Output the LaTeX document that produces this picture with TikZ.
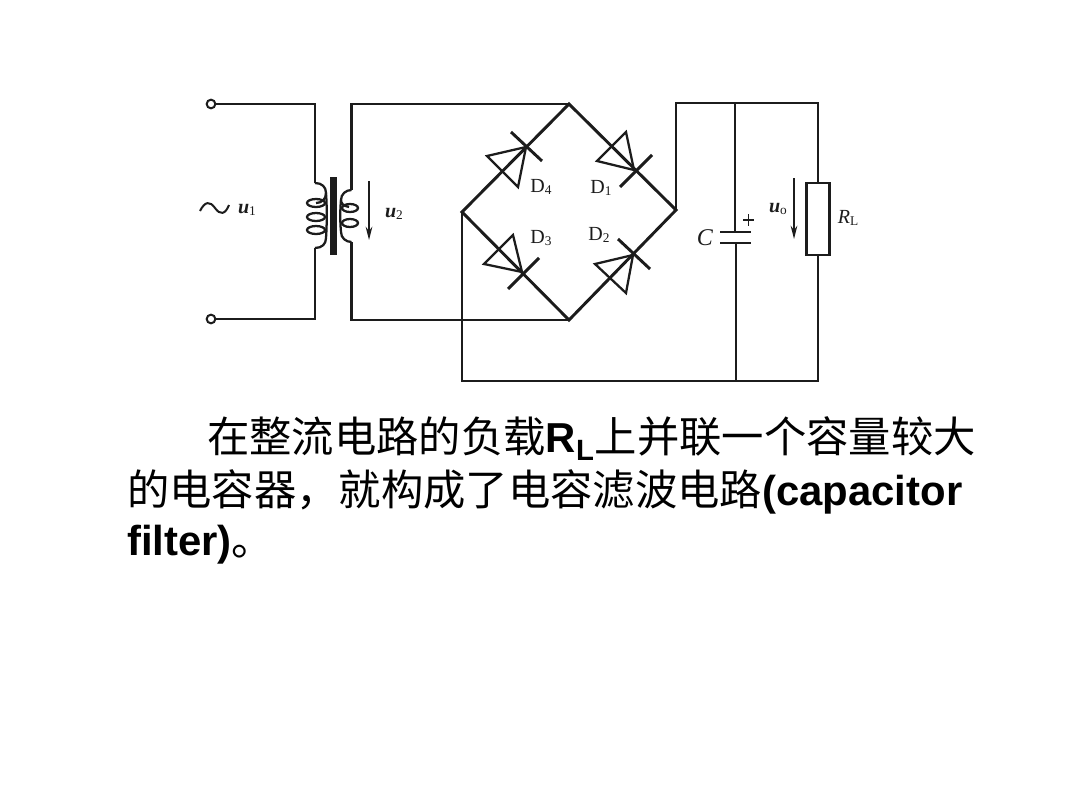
\documentclass[tikz,border=0pt]{standalone}
\usepackage{fontspec}
\setmainfont{Liberation Sans}
\newfontfamily\cjk{Noto Sans CJK SC}
\newfontfamily\serifont{Liberation Serif}
\usetikzlibrary{arrows.meta}
\definecolor{ink}{HTML}{1C1C1C}
\newcommand{\subfont}{\fontsize{10}{11}\selectfont}
\newcommand{\cjkrun}[1]{{\fontsize{31.75}{36}\selectfont\mdseries\cjk #1}}
\tikzset{
  wire/.style={draw=ink,line width=2.2pt,line join=miter},
  thin wire/.style={draw=ink,line width=1.7pt},
  term/.style={circle,draw=ink,line width=1.5pt,fill=white,minimum size=6.5pt,inner sep=0pt},
  sym/.style={text=ink,inner sep=0pt,font=\fontsize{15}{17}\selectfont\serifont},
  para/.style={text=black,inner sep=0pt,anchor=base west,font=\fontsize{31.4}{36}\selectfont\bfseries},
  volt/.style={draw=ink,line width=1.2pt,-{Stealth[length=10pt,width=5pt]}}
}
\newcommand{\diode}[5]{%
  \coordinate (#1apex) at #2;
  \draw[thin wire,line join=miter] #2 -- #3 -- #4 -- cycle;
  \draw[wire] #5;
}
\begin{document}
\begin{tikzpicture}[x=0.75pt,y=-0.75pt]
\useasboundingbox (0,0) rectangle (1080,810);
\fill[white] (0,0) rectangle (1080,810);
% junctions
\coordinate (pt) at (315,104);
\coordinate (pc1) at (315,183);
\coordinate (pc2) at (315,248);
\coordinate (pb) at (315,319);
\coordinate (st) at (351.5,104);
\coordinate (sc1) at (351.5,190);
\coordinate (sc2) at (351.5,242);
\coordinate (sb) at (351.5,320);
\coordinate (top) at (569,104);
\coordinate (right) at (676,210);
\coordinate (bottom) at (569,320);
\coordinate (left) at (462,212);
\coordinate (rtop) at (676,103);
\coordinate (ctop) at (735,103);
\coordinate (Rtop) at (818,103);
\coordinate (Rbot) at (818,381);
\coordinate (cbot) at (736,381);
\coordinate (lbot) at (462,381);
\coordinate (cp1) at (735,232);
\coordinate (cp2) at (736,243);
% terminals
\node[term] (t1) at (211,104) {};
\node[term] (t2) at (211,319) {};
% resistor
\node[draw=ink,line width=2.1pt,fill=white,minimum width=17pt,minimum height=54pt,inner sep=0pt] (RL) at (818,219) {};
% wires
\draw[wire] (t1) -- (pt) -- (pc1);
\draw[wire] (pc2) -- (pb) -- (t2);
\draw[wire] (sc1) -- (st) -- (top);
\draw[wire] (sc2) -- (sb) -- (bottom);
\draw[wire] (top) -- (right) -- (bottom) -- (left) -- cycle;
\draw[wire] (right) -- (rtop) -- (Rtop) -- (RL.north);
\draw[wire] (RL.south) -- (Rbot) -- (lbot) -- (left);
\draw[wire] (ctop) -- (cp1);
\draw[wire] (cp2) -- (cbot);
% capacitor plates
\draw[wire] (720,232) -- (751,232);
\draw[wire] (720,243) -- (751,243);
\draw[draw=ink,line width=0.9pt] (743,220) -- (754,220) (748.5,214) -- (748.5,226);
% transformer core
\fill[ink] (330,177) rectangle (337,255);
% primary coil
\draw[thin wire] (pc1) .. controls (322,183) and (326,187) .. (326,193) .. controls (326,199) and (322,203) .. (316,203);
\draw[thin wire] (326,193) .. controls (327,205) and (327,225) .. (326,238) .. controls (326,244) and (322,248) .. (pc2);
\foreach \yy in {203,217,230}{\draw[thin wire] (316,\yy) ellipse [x radius=9,y radius=4];}
% secondary coil
\draw[thin wire] (sc1) .. controls (346,190) and (341,194) .. (341,200) .. controls (341,203) and (343,206) .. (349,207);
\draw[thin wire] (341,200) .. controls (340,210) and (340,222) .. (341,232) .. controls (341,238) and (346,242) .. (sc2);
\foreach \yy in {208,223}{\draw[thin wire] (350,\yy) ellipse [x radius=8,y radius=4];}
% diodes
\diode{d1}{(634,170)}{(597,161)}{(626,132)}{(620,187) -- (652,155)}
\diode{d4}{(526,147)}{(487,156)}{(518,187)}{(511,132) -- (542,161)}
\diode{d3}{(522,272)}{(484,264)}{(513,235)}{(508,289) -- (539,258)}
\diode{d2}{(633,255)}{(595,264)}{(626,293)}{(618,239) -- (650,269)}
% voltage arrows
\coordinate (a2t) at (369,181); \coordinate (a2b) at (369,240);
\coordinate (aot) at (794,178); \coordinate (aob) at (794,239);
\draw[volt] (a2t) -- (a2b);
\draw[volt] (aot) -- (aob);
% source symbol
\draw[draw=ink,line width=1.5pt] (200,211) .. controls (205,201) and (210,201) .. (215,208) .. controls (220,215) and (225,215) .. (229,205);
% labels
\node[sym] (lu1) at (247,210) {\textbf{\textit{u}}\subfont\raisebox{-1pt}{1}};
\node[sym] (lu2) at (394,214) {\textbf{\textit{u}}\subfont\raisebox{-1pt}{2}};
\node[sym] (luo) at (778,209) {\textbf{\textit{u}}\subfont\raisebox{-1pt}{o}};
\node[sym,font=\fontsize{18}{20}\selectfont\serifont] (lC) at (705,238) {\textit{C}};
\node[sym] (lR) at (848,218) {\textit{R}\subfont\raisebox{-1pt}{L}};
\node[sym] (lD4) at (541,187) {D\subfont\raisebox{-1.5pt}{4}};
\node[sym] (lD1) at (601,188) {D\subfont\raisebox{-1.5pt}{1}};
\node[sym] (lD3) at (541,238) {D\subfont\raisebox{-1.5pt}{3}};
\node[sym] (lD2) at (599,235) {D\subfont\raisebox{-1.5pt}{2}};
% paragraph
\node[para] (p1) at (207,452) {\cjkrun{在整流电路的负载}R\textsubscript{L}\cjkrun{上并联一个容量较大}};
\node[para] (p2) at (127,505) {\cjkrun{的电容器，就构成了电容滤波电路}(capacitor};
\node[para] (p3) at (127,555) {filter)\cjkrun{。}};
\end{tikzpicture}
\end{document}
